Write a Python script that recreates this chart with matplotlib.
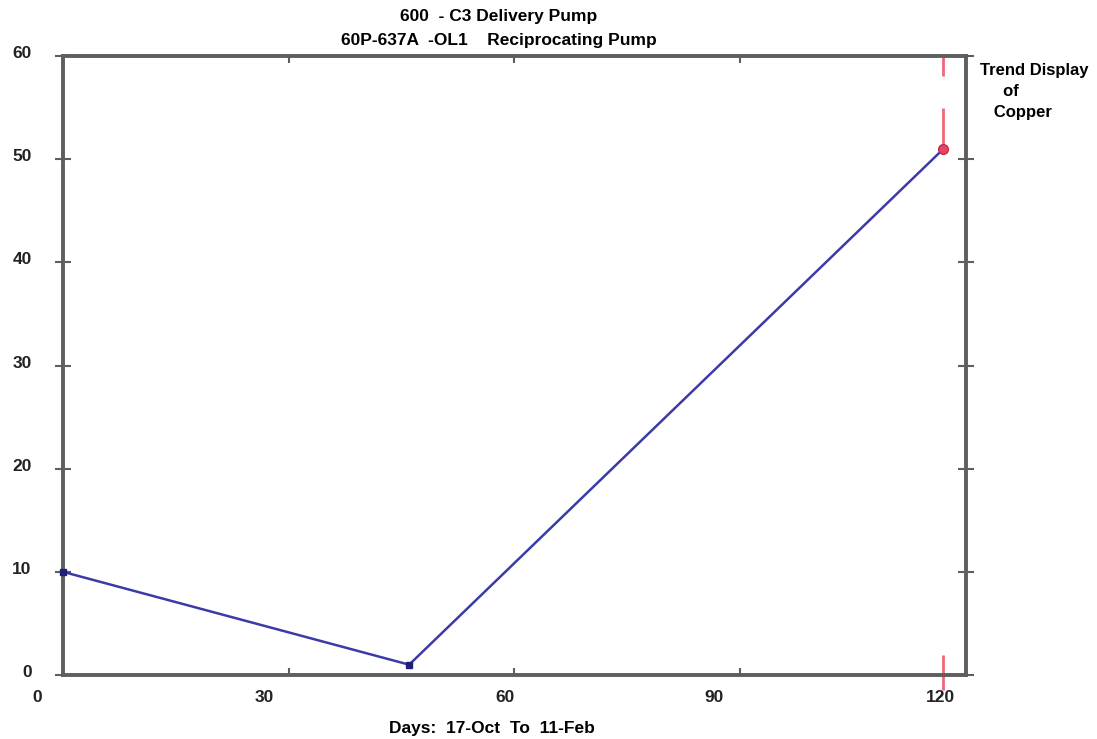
import matplotlib
matplotlib.use("Agg")
import matplotlib.pyplot as plt
import matplotlib.transforms as mtransforms

days = [0, 46, 117]
copper = [10, 1, 51]
latest_day = 117
latest_value = 51

# red marker segments at the latest sample (y from, y to)
red_seg_lo = [58.1, 51.3, -1.5]
red_seg_hi = [60.0, 55.0, 1.9]

x_ticks = [0, 30, 60, 90, 120]
y_ticks = [0, 10, 20, 30, 40, 50, 60]

title_text = "600  - C3 Delivery Pump\n60P-637A  -OL1    Reciprocating Pump"
side_text = "Trend Display\n     of\n   Copper"
x_label = "Days:  17-Oct  To  11-Feb"

plt.rcParams["font.family"] = ["Liberation Sans", "DejaVu Sans"]
plt.rcParams["font.weight"] = "bold"
plt.rcParams["axes.labelweight"] = "bold"

fig = plt.figure(figsize=(10.97, 7.39), dpi=100)
ax = fig.add_axes([0.0574, 0.0866, 0.8232, 0.8376])

spine_col = "#5e5e5e"
ax.plot(days, copper, color="#3b3ba8", lw=1.8, zorder=3)
ax.plot(days[:-1], copper[:-1], ls="none", marker="s", ms=4,
        color="#1f1f7a", zorder=4, clip_on=False)
ax.plot([latest_day], [latest_value], ls="none", marker="o", ms=7,
        mfc="#e04868", mec="#c82848", zorder=5)
ax.vlines([latest_day] * len(red_seg_lo), red_seg_lo, red_seg_hi,
          color="#f06878", lw=2, zorder=2, clip_on=False)

ax.set_xlim(0, 120)
ax.set_ylim(0, 60)

for s in ax.spines.values():
    s.set_color(spine_col)
    s.set_linewidth(2.8)

ax.set_xticks(x_ticks)
ax.set_xticklabels([str(t) for t in x_ticks], fontsize=12.5, color="#222222")
ax.set_yticks(y_ticks)
ax.set_yticklabels([str(t) for t in y_ticks], fontsize=12.5, color="#222222")

ax.tick_params(axis="x", direction="in", length=5, width=1.5, color=spine_col,
               top=True, pad=11)
ax.tick_params(axis="y", direction="inout", length=11, width=1.5, color=spine_col,
               right=True, pad=17)

# old-style labels sit a bit left of their ticks (inches)
x_label_shift = [-0.26, -0.24, -0.09, -0.26, -0.26]
for lab, dx in zip(ax.get_xticklabels(), x_label_shift):
    lab.set_transform(lab.get_transform()
                      + mtransforms.ScaledTranslation(dx, 0, fig.dpi_scale_trans))
yshift = mtransforms.ScaledTranslation(0, 0.04, fig.dpi_scale_trans)
for lab in ax.get_yticklabels():
    lab.set_transform(lab.get_transform() + yshift)

ax.set_xlabel(x_label, fontsize=12.5)
ax.xaxis.set_label_coords(0.475, -0.075)

fig.text(0.4545, 0.988, title_text, ha="center", va="top", fontsize=12.5,
         linespacing=1.75)
fig.text(0.893, 0.915, side_text, ha="left", va="top", fontsize=12,
         linespacing=1.5)

fig.savefig("out.png", dpi=100)
